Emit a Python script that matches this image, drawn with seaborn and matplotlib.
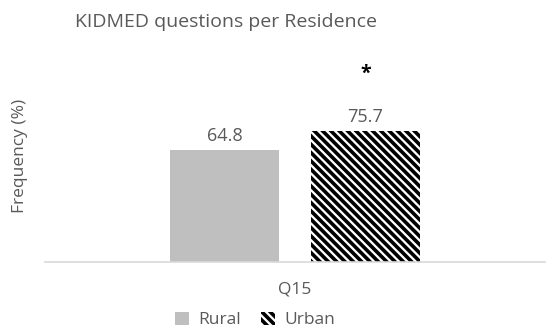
import matplotlib
matplotlib.use("Agg")
import matplotlib.pyplot as plt
import seaborn as sns
import pandas as pd
from matplotlib.patches import Patch

# data
question = ["Q15", "Q15"]
residence = ["Rural", "Urban"]
frequency = [64.8, 75.7]
significant = [False, True]

df = pd.DataFrame({"question": question, "residence": residence, "frequency": frequency})

sns.set_theme(style="white")
plt.rcParams['font.family'] = ['Open Sans', 'DejaVu Sans']
plt.rcParams['hatch.linewidth'] = 2.6

text_col = '#595959'
hatch = '\\\\\\\\'

fig = plt.figure(figsize=(5.5, 3.33), dpi=100)
ax = fig.add_axes([45 / 550, (333 - 262) / 333, 500 / 550, 212 / 333])

sns.barplot(data=df, x="question", y="frequency", hue="residence",
            palette=["#bfbfbf", "white"], width=0.564, gap=0.22,
            legend=False, ax=ax)

bars = ax.patches
bars[0].set_linewidth(0)
bars[1].set_hatch(hatch)
bars[1].set_edgecolor('black')
bars[1].set_linewidth(0)

for bar, val, sig in zip(bars, frequency, significant):
    cx = bar.get_x() + bar.get_width() / 2
    ax.text(cx, val + 3, f"{val}", ha='center', va='bottom', fontsize=13, color=text_col)
    if sig:
        ax.text(cx, val + 33, "*", ha='center', va='center', fontsize=14,
                fontweight='bold', color='black')

ax.set_xlim(-0.5, 0.5)
ax.set_ylim(0, 122.7)
ax.set_yticks([])
ax.set_xlabel("")
ax.set_ylabel("Frequency (%)", fontsize=12.5, color=text_col, labelpad=12)
ax.tick_params(axis='x', colors=text_col, labelsize=12.5, length=0, pad=14)
for s in ['top', 'right', 'left']:
    ax.spines[s].set_visible(False)
ax.spines['bottom'].set_color('#d9d9d9')
ax.spines['bottom'].set_linewidth(1.2)

fig.text(75 / 550, 1 - 22 / 333, "KIDMED questions per Residence", fontsize=14,
         color=text_col, va='center', ha='left')

handles = [Patch(facecolor='#bfbfbf', edgecolor='none', label='Rural'),
           Patch(facecolor='white', edgecolor='black', linewidth=0, hatch=hatch, label='Urban')]
fig.legend(handles=handles, loc='center', bbox_to_anchor=(255 / 550, 1 - 320 / 333),
           ncol=2, frameon=False, fontsize=12.5, labelcolor=text_col,
           handlelength=0.8, handleheight=0.8, handletextpad=0.5, columnspacing=1.2)

fig.savefig("out.png", dpi=100)
